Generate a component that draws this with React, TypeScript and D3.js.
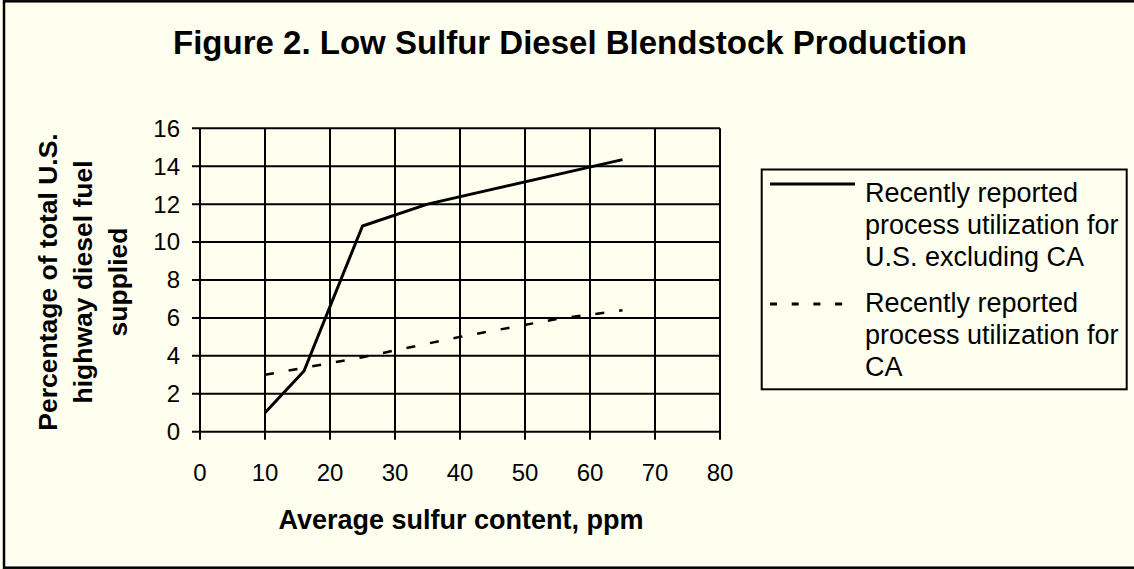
import React from 'react';
import * as d3 from 'd3';

// sulfur content (ppm) and share of U.S. highway diesel (%)
const usSulfur = [10, 16, 25, 35, 65];
const usShare = [1.0, 3.2, 10.85, 12.0, 14.35];
const caSulfur = [10, 25, 40, 55, 65];
const caShare = [3.0, 3.93, 5.0, 5.95, 6.4];

const xTicks = [0, 10, 20, 30, 40, 50, 60, 70, 80];
const yTicks = [0, 2, 4, 6, 8, 10, 12, 14, 16];

const titleText = 'Figure 2. Low Sulfur Diesel Blendstock Production';
const xTitle = 'Average sulfur content, ppm';
const yTitleLines = ['Percentage of total U.S.', 'highway diesel fuel', 'supplied'];
const legendUs = ['Recently reported', 'process utilization for', 'U.S. excluding CA'];
const legendCa = ['Recently reported', 'process utilization for', 'CA'];

const W = 1134;
const H = 569;
const FONT = '"Liberation Sans", Arial, Helvetica, sans-serif';
const BG = '#fffff0';

export default function App() {
  const x = d3.scaleLinear().domain([0, 80]).range([200, 720]);
  const y = d3.scaleLinear().domain([0, 16]).range([431.7, 128.3]);

  const line = d3.line<[number, number]>()
    .x(d => x(d[0]))
    .y(d => y(d[1]));

  const usPts = usSulfur.map((s, i) => [s, usShare[i]] as [number, number]);
  const caPts = caSulfur.map((s, i) => [s, caShare[i]] as [number, number]);

  const [x0, x1] = x.range();
  const [y0, y1] = y.range();

  return (
    <svg width={W} height={H} style={{ position: 'absolute', left: 0, top: 0, display: 'block' }}
      fontFamily={FONT}>
      <rect x={0} y={0} width={W} height={H} fill={BG} />
      {/* outer frame, right edge falls outside the picture */}
      <rect x={4} y={1.3} width={W + 10} height={566.4} fill="none" stroke="#000" strokeWidth={2.5} />

      <text x={570} y={53.6} textAnchor="middle" fontSize={33} fontWeight="bold">{titleText}</text>

      {/* grid + ticks */}
      {yTicks.map(t => (
        <line key={'gy' + t} x1={x0 - 8} x2={x1} y1={y(t)} y2={y(t)} stroke="#000" strokeWidth={2} />
      ))}
      {xTicks.map(t => (
        <line key={'gx' + t} x1={x(t)} x2={x(t)} y1={y1} y2={y0 + 8} stroke="#000" strokeWidth={2} />
      ))}

      {yTicks.map(t => (
        <text key={'ly' + t} x={180} y={y(t)} dy="0.35em" textAnchor="end" fontSize={24}>{t}</text>
      ))}
      {xTicks.map(t => (
        <text key={'lx' + t} x={x(t)} y={481} textAnchor="middle" fontSize={24}>{t}</text>
      ))}

      <text x={461} y={528.5} textAnchor="middle" fontSize={27} fontWeight="bold">{xTitle}</text>
      {yTitleLines.map((l, i) => (
        <text key={'yt' + i} transform={`translate(${57 + i * 35},282) rotate(-90)`} textAnchor="middle"
          fontSize={26.5} fontWeight="bold">{l}</text>
      ))}

      {/* series */}
      <path d={line(caPts) || ''} fill="none" stroke="#000" strokeWidth={2.5} strokeDasharray="9,15" />
      <path d={line(usPts) || ''} fill="none" stroke="#000" strokeWidth={3} strokeLinejoin="round" />

      {/* legend */}
      <rect x={761.7} y={169.5} width={365} height={219.8} fill={BG} stroke="#000" strokeWidth={2} />
      <line x1={770} x2={855} y1={184} y2={184} stroke="#000" strokeWidth={3} />
      <line x1={770} x2={855} y1={304} y2={304} stroke="#000" strokeWidth={3} strokeDasharray="7,14.7" />
      {legendUs.map((l, i) => (
        <text key={'lu' + i} x={865} y={201.5 + i * 32} fontSize={27}>{l}</text>
      ))}
      {legendCa.map((l, i) => (
        <text key={'lc' + i} x={865} y={312 + i * 32} fontSize={27}>{l}</text>
      ))}
    </svg>
  );
}
